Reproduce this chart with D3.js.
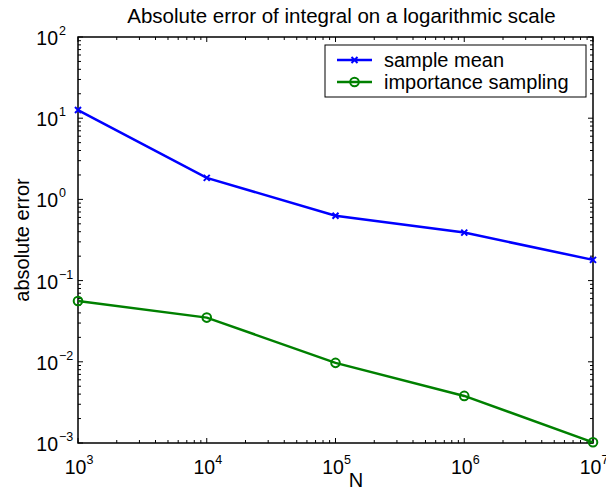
<!DOCTYPE html>
<html>
<head>
<meta charset="utf-8">
<script src="https://cdn.jsdelivr.net/npm/d3@7"></script>
<style>
body{margin:0;background:#fff;}
text{font-family:"Liberation Sans",Arial,Helvetica,sans-serif;fill:#000;}
</style>
</head>
<body>
<script>
// data
var nValues = [1e3, 1e4, 1e5, 1e6, 1e7];
var sampleMean = [12.6, 1.84, 0.63, 0.39, 0.18];
var importanceSampling = [0.056, 0.035, 0.0097, 0.0038, 0.00102];
var xTickExp = [3, 4, 5, 6, 7];
var yTickExp = [-3, -2, -1, 0, 1, 2];
var seriesNames = ["sample mean", "importance sampling"];

var margin = {top: 37, right: 13, bottom: 47, left: 78},
width = 606 - margin.left - margin.right,
height = 490 - margin.top - margin.bottom;

var x = d3.scaleLog().domain([1e3, 1e7]).range([0, width]);
var y = d3.scaleLog().domain([1e-3, 1e2]).range([height, 0]);

var svg = d3.select("body")
.append("svg")
.attr("width", 606)
.attr("height", 490)
.append("g")
.attr("transform", "translate(" + margin.left + "," + margin.top + ")");

//minor ticks, matlab style (inside, on all four sides)
var xMinor = [], yMinor = [];
xTickExp.slice(0, -1).forEach(function(e){
  for(var k=2;k<10;k++) xMinor.push(k*Math.pow(10,e));
});
yTickExp.slice(0, -1).forEach(function(e){
  for(var k=2;k<10;k++) yMinor.push(k*Math.pow(10,e));
});
var ticks = svg.append("g").attr("stroke", "#000").attr("stroke-width", 1);
function tickLines(vals, len, horiz){
  vals.forEach(function(v){
    if(horiz){
      var px = x(v);
      ticks.append("line").attr("x1", px).attr("x2", px).attr("y1", height).attr("y2", height-len);
      ticks.append("line").attr("x1", px).attr("x2", px).attr("y1", 0).attr("y2", len);
    } else {
      var py = y(v);
      ticks.append("line").attr("y1", py).attr("y2", py).attr("x1", 0).attr("x2", len);
      ticks.append("line").attr("y1", py).attr("y2", py).attr("x1", width).attr("x2", width-len);
    }
  });
}
tickLines(xMinor, 3, true);
tickLines(yMinor, 3, false);
tickLines(xTickExp.map(function(e){return Math.pow(10,e);}), 5, true);
tickLines(yTickExp.map(function(e){return Math.pow(10,e);}), 5, false);

svg.append("rect")
.attr("width", width)
.attr("height", height)
.attr("fill", "none")
.attr("stroke", "#000")
.attr("stroke-width", 1.5);

function expText(e){ return e < 0 ? "\u2212" + (-e) : String(e); }

//tick labels 10^n
xTickExp.forEach(function(e){
  var t = svg.append("text")
  .attr("x", x(Math.pow(10,e)) + 1)
  .attr("y", height + 31)
  .attr("text-anchor", "middle")
  .style("font-size", "19.5px");
  t.append("tspan").text("10");
  t.append("tspan").attr("dy", -10).style("font-size", "12.5px").text(expText(e));
});
yTickExp.forEach(function(e){
  var t = svg.append("text")
  .attr("x", -20)
  .attr("y", y(Math.pow(10,e)) + 8)
  .attr("text-anchor", "end")
  .style("font-size", "19.5px");
  t.append("tspan").text("10");
  t.append("tspan").attr("x", -19).attr("dy", -10).attr("text-anchor", "start").style("font-size", "12.5px").text(expText(e));
});

svg.append("text")
.attr("x", 356 - margin.left)
.attr("y", height + 44)
.attr("text-anchor", "middle")
.style("font-size", "20px")
.text("N");

svg.append("text")
.attr("transform", "translate(-49," + (height/2) + ") rotate(-90)")
.attr("text-anchor", "middle")
.style("font-size", "20px")
.text("absolute error");

svg.append("text")
.attr("x", width/2 + 6)
.attr("y", -14)
.attr("text-anchor", "middle")
.style("font-size", "20.5px")
.text("Absolute error of integral on a logarithmic scale");

var line = d3.line()
.x(function(d){return x(d[0]);})
.y(function(d){return y(d[1]);});

var blue = "#0000ff", green = "#008000";
var meanPts = d3.zip(nValues, sampleMean);
var impPts = d3.zip(nValues, importanceSampling);

svg.append("path").datum(meanPts).attr("d", line)
.attr("fill", "none").attr("stroke", blue).attr("stroke-width", 2.5);
svg.append("path").datum(impPts).attr("d", line)
.attr("fill", "none").attr("stroke", green).attr("stroke-width", 2.5);

function crossMark(g, cx, cy, s){
  g.append("path")
  .attr("d", "M" + (cx-s) + "," + (cy-s) + "L" + (cx+s) + "," + (cy+s) +
             "M" + (cx-s) + "," + (cy+s) + "L" + (cx+s) + "," + (cy-s))
  .attr("stroke", blue).attr("stroke-width", 2);
}
var marks = svg.append("g");
meanPts.forEach(function(d){ crossMark(marks, x(d[0]), y(d[1]), 3); });
marks.selectAll("circle")
.data(impPts)
.enter().append("circle")
.attr("cx", function(d){return x(d[0]);})
.attr("cy", function(d){return y(d[1]);})
.attr("r", 4.3)
.attr("fill", "none")
.attr("stroke", green)
.attr("stroke-width", 2);

//legend
var legend = svg.append("g").attr("transform", "translate(" + (325 - margin.left) + "," + (45 - margin.top) + ")");
legend.append("rect")
.attr("width", 261).attr("height", 52)
.attr("fill", "#fff").attr("stroke", "#000").attr("stroke-width", 1);
[blue, green].forEach(function(c, i){
  var ly = 15 + i*22;
  legend.append("line").attr("x1", 12).attr("x2", 47).attr("y1", ly).attr("y2", ly)
  .attr("stroke", c).attr("stroke-width", 2.5);
  if(i==0) crossMark(legend, 29.5, ly, 3);
  else legend.append("circle").attr("cx", 29.5).attr("cy", ly).attr("r", 4.3)
  .attr("fill", "none").attr("stroke", c).attr("stroke-width", 2);
  legend.append("text").attr("x", 59).attr("y", ly + 7)
  .style("font-size", "20px").text(seriesNames[i]);
});
</script>
</body>
</html>
